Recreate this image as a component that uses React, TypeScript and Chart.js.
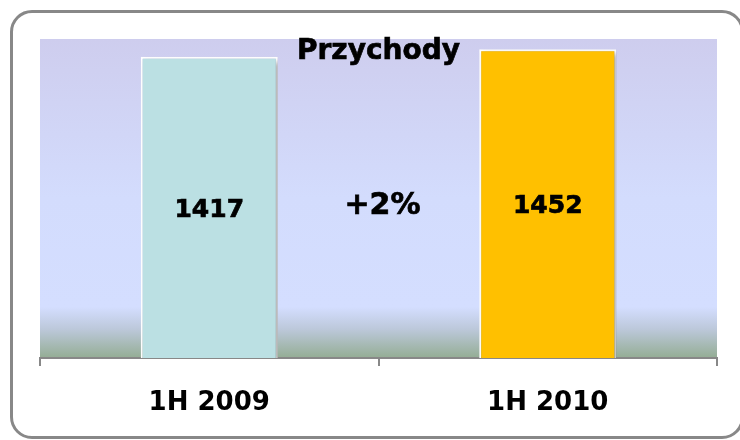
import React, { useEffect, useRef } from "react";
import { Chart, registerables } from "chart.js";

Chart.register(...registerables);

const CATEGORIES = ["1H 2009", "1H 2010"];
const REVENUE = [1417, 1452];
const BAR_COLORS = ["#BBE0E3", "#FFC000"];
const TITLE = "Przychody";
const Y_MAX = 1500;

const FONT = "'DejaVu Sans', Verdana, sans-serif";

const changePct = Math.round(((REVENUE[1] - REVENUE[0]) / REVENUE[0]) * 100);
const CHANGE_LABEL = (changePct >= 0 ? "+" : "") + changePct + "%";

function boldText(ctx: CanvasRenderingContext2D, text: string, x: number, y: number) {
  ctx.fillText(text, x, y);
  ctx.strokeText(text, x, y);
}

const decorPlugin = {
  id: "decor",
  beforeDraw(chart: any) {
    const { ctx, chartArea } = chart;
    const { left, right, top, bottom } = chartArea;
    const g = ctx.createLinearGradient(0, top, 0, bottom);
    g.addColorStop(0, "#CECDEE");
    g.addColorStop(0.5, "#D3DCFD");
    g.addColorStop(0.84, "#D4DEFF");
    g.addColorStop(0.91, "#BCC8DA");
    g.addColorStop(1, "#94AD94");
    ctx.save();
    ctx.fillStyle = g;
    ctx.fillRect(left, top, right - left, bottom - top);
    ctx.restore();
  },
  beforeDatasetsDraw(chart: any) {
    const ctx = chart.ctx;
    ctx.save();
    ctx.shadowColor = "rgba(0,0,0,0.35)";
    ctx.shadowBlur = 5;
    ctx.shadowOffsetX = 3;
    ctx.shadowOffsetY = 3;
  },
  afterDatasetsDraw(chart: any) {
    chart.ctx.restore();
  },
  afterDraw(chart: any) {
    const { ctx, chartArea } = chart;
    const cx = (chartArea.left + chartArea.right) / 2;
    ctx.save();
    ctx.fillStyle = "#000";
    ctx.strokeStyle = "#000";
    ctx.lineWidth = 0.7;
    ctx.textAlign = "center";
    ctx.textBaseline = "middle";
    ctx.font = `bold 28px ${FONT}`;
    boldText(ctx, TITLE, cx, 52);
    const meta = chart.getDatasetMeta(0);
    ctx.font = `bold 25px ${FONT}`;
    meta.data.forEach((bar: any, i: number) => {
      const y = (bar.y + bar.base) / 2 + 3;
      boldText(ctx, String(REVENUE[i]), bar.x, y);
    });
    const midY = (meta.data[0].y + meta.data[0].base) / 2;
    ctx.font = `bold 30px ${FONT}`;
    boldText(ctx, CHANGE_LABEL, cx + 4, midY - 1);
    ctx.restore();
  },
};

export default function App() {
  const ref = useRef<HTMLCanvasElement>(null);
  useEffect(() => {
    if (!ref.current) return;
    const chart = new Chart(ref.current, {
      type: "bar",
      data: {
        labels: CATEGORIES,
        datasets: [
          {
            data: REVENUE,
            backgroundColor: BAR_COLORS,
            borderColor: "#FFFFFF",
            borderWidth: { top: 2, left: 2, right: 2, bottom: 0 },
            borderSkipped: "bottom",
            barPercentage: 0.405,
            categoryPercentage: 1,
          },
        ],
      },
      options: {
        animation: false,
        responsive: true,
        maintainAspectRatio: false,
        layout: { padding: { left: 40, right: 23, top: 39, bottom: 0 } },
        plugins: {
          legend: { display: false },
          title: { display: false },
          tooltip: { enabled: false },
        },
        scales: {
          y: { display: false, min: 0, max: Y_MAX },
          x: {
            grid: {
              offset: true,
              drawOnChartArea: false,
              drawTicks: true,
              tickLength: 8,
              color: "#888888",
              lineWidth: 2,
            },
            border: { display: true, color: "#888888", width: 2 },
            ticks: {
              color: "#000",
              padding: 23,
              font: { family: FONT, weight: "bold", size: 26, lineHeight: 1.08 },
            },
          },
        },
      },
      plugins: [decorPlugin],
    });
    return () => chart.destroy();
  }, []);

  return (
    <div
      style={{
        position: "absolute",
        left: 0,
        top: 0,
        width: 740,
        height: 440,
        background: "#fff",
        overflow: "hidden",
      }}
    >
      <div
        style={{
          position: "absolute",
          left: 10,
          top: 10,
          width: 728,
          height: 423,
          border: "3px solid #888",
          borderRadius: 22,
        }}
      />
      <div style={{ position: "absolute", left: 0, top: 0, width: 740, height: 440 }}>
        <canvas ref={ref} />
      </div>
    </div>
  );
}
